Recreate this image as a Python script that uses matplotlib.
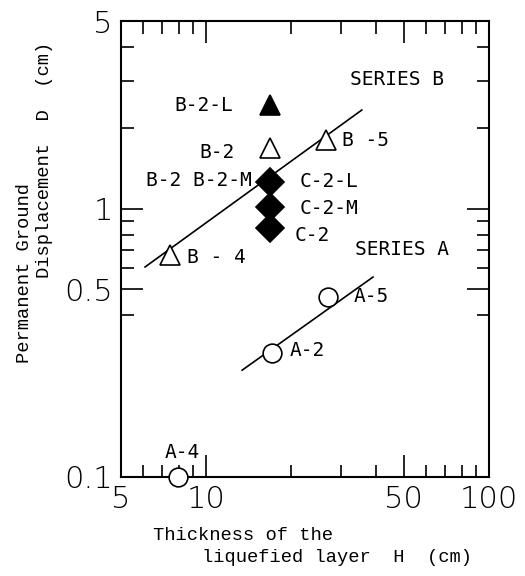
import numpy as np
import matplotlib
matplotlib.use('Agg')
import matplotlib.pyplot as plt
from matplotlib.ticker import FixedLocator, NullFormatter

# data (H in cm, D in cm)
open_tri_H = [16.8, 26.5, 7.45]
open_tri_D = [1.68, 1.80, 0.67]
open_tri_names = ['B-2', 'B -5', 'B - 4']

filled_tri_H = [16.8]
filled_tri_D = [2.43]
filled_tri_names = ['B-2-L']

diamond_H = [16.8, 16.8, 16.8]
diamond_D = [1.26, 1.01, 0.85]
diamond_names = ['C-2-L', 'C-2-M', 'C-2']

circle_H = [27.0, 17.1, 7.95]
circle_D = [0.47, 0.29, 0.10]
circle_names = ['A-5', 'A-2', 'A-4']

series_b_line_H = [6.08, 35.5]
series_b_line_D = [0.606, 2.33]
series_a_line_H = [13.4, 38.9]
series_a_line_D = [0.25, 0.556]

x_major = [5, 10, 50, 100]
x_major_labels = ['5', '10', '50', '100']
y_major = [0.1, 0.5, 1, 5]
y_major_labels = ['0.1', '0.5', '1', '5']
y_minor = [0.4, 0.6, 0.7, 0.8, 0.9, 2, 3, 4]

fig = plt.figure(figsize=(5.25, 5.76), dpi=100)
ax = fig.add_axes([0.2305, 0.1719, 0.701, 0.7916])

ax.set_xscale('log')
ax.set_yscale('log')
ax.set_xlim(5, 100)
ax.set_ylim(0.1, 5)

# fitted lines
ax.plot(series_b_line_H, series_b_line_D, color='black', lw=1.2)
ax.plot(series_a_line_H, series_a_line_D, color='black', lw=1.2)

mk = dict(linestyle='none', markeredgecolor='black', markeredgewidth=1.2,
          clip_on=False, zorder=5)
ax.plot(open_tri_H, open_tri_D, marker='^', ms=14, markerfacecolor='white', **mk)
ax.plot(filled_tri_H, filled_tri_D, marker='^', ms=14, markerfacecolor='black', **mk)
ax.plot(diamond_H, diamond_D, marker='D', ms=14, markerfacecolor='black', **mk)
ax.plot(circle_H, circle_D, marker='o', ms=13.5, markerfacecolor='white', **mk)

lab_font = dict(family='DejaVu Sans Mono', fontsize=14, va='center')

def label(names, xs, ys, offsets, ha):
    for n, x, y, off, h in zip(names, xs, ys, offsets, ha):
        ax.annotate(n, (x, y), xytext=off, textcoords='offset pixels',
                    ha=h, **lab_font)

label(open_tri_names, open_tri_H, open_tri_D,
      [(-35, -4), (16, 0), (17, -2)], ['right', 'left', 'left'])
label(filled_tri_names, filled_tri_H, filled_tri_D, [(-37, 0)], ['right'])
label(diamond_names, diamond_H, diamond_D,
      [(30, 0), (30, -1), (25, -8)], ['left', 'left', 'left'])
label(['B-2 B-2-M'], diamond_H[:1], diamond_D[:1], [(-18, 1)], ['right'])
label(circle_names, circle_H, circle_D,
      [(25, 0), (18, 2), (4, 24)], ['left', 'left', 'center'])

ax.text(0.622, 0.871, 'SERIES B', transform=ax.transAxes, ha='left', **lab_font)
ax.text(0.636, 0.498, 'SERIES A', transform=ax.transAxes, ha='left', **lab_font)

# ticks
ax.xaxis.set_major_locator(FixedLocator(x_major))
ax.set_xticklabels(x_major_labels)
ax.xaxis.set_minor_formatter(NullFormatter())
ax.yaxis.set_major_locator(FixedLocator(y_major))
ax.set_yticklabels(y_major_labels)
ax.yaxis.set_minor_locator(FixedLocator(y_minor))
ax.yaxis.set_minor_formatter(NullFormatter())

ax.tick_params(which='both', direction='in', top=True, right=True, width=1.2)
ax.tick_params(which='major', length=16, labelsize=22, pad=6)
ax.tick_params(which='minor', length=9)
for t in ax.get_xticklabels() + ax.get_yticklabels():
    t.set_fontweight('light')
for s in ax.spines.values():
    s.set_linewidth(1.5)

# axis titles, two lines each with an indent
tfont = dict(family='Liberation Mono', fontsize=13.5)
fig.text(153 / 525, 1 - 535 / 576, 'Thickness of the', ha='left', va='center', **tfont)
fig.text(202 / 525, 1 - 558 / 576, 'liquefied layer  H  (cm)', ha='left', va='center', **tfont)
fig.text(25 / 525, 1 - 363 / 576, 'Permanent Ground', rotation=90,
         ha='center', va='bottom', **tfont)
fig.text(45 / 525, 1 - 278 / 576, 'Displacement  D  (cm)', rotation=90,
         ha='center', va='bottom', **tfont)

fig.savefig('out.png', dpi=100)
